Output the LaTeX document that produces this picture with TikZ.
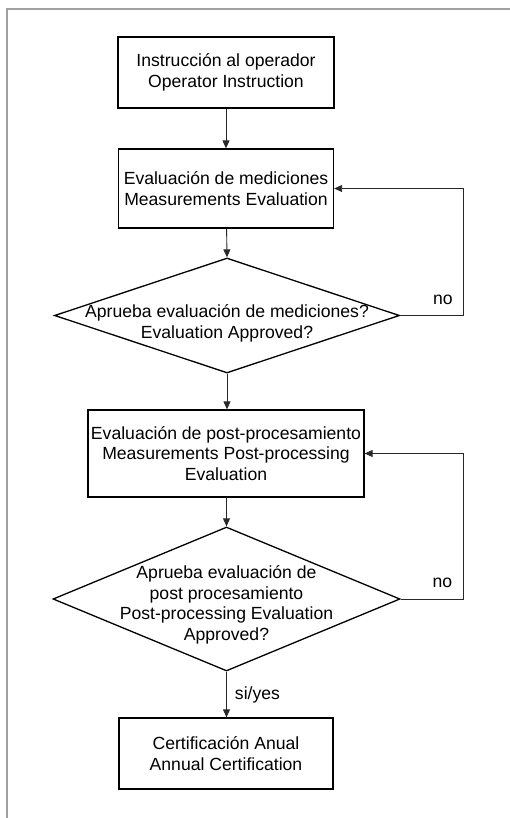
\documentclass[tikz,border=0pt]{standalone}
\usepackage{fontspec}
\setmainfont{Liberation Sans}
\usetikzlibrary{positioning}
\usetikzlibrary{arrows.meta}
\usetikzlibrary{shapes.geometric}
\definecolor{framegray}{RGB}{160,160,160}
\definecolor{linegray}{RGB}{40,40,40}

\begin{document}
\begin{tikzpicture}[x=1pt, y=-1pt,
    stepbox/.style={draw, line width=1.3pt, align=center, inner sep=0pt, font=\fontsize{17.6}{20.5}\selectfont},
    askbox/.style={draw, diamond, line width=1.3pt, inner sep=0pt},
    asktext/.style={align=center, inner sep=0pt, font=\fontsize{17.6}{20.5}\selectfont},
    flow/.style={-{Triangle[length=8pt, width=7pt]}, linegray, line width=0.9pt},
    lbl/.style={inner sep=0pt, text=black, font=\fontsize{17.6}{20.5}\selectfont}]
    \useasboundingbox (0,0) rectangle (510,818);
    \draw[framegray, line width=1.5pt] (7,818) -- (7,9) -- (510,9);

    % steps and questions
    \node[stepbox, minimum width=216pt, minimum height=71pt] (instr) at (226,72.5) {Instrucción al operador\\Operator Instruction};
    \node[stepbox, minimum width=215pt, minimum height=79pt] (meas) at (226,188.5) {Evaluación de mediciones\\Measurements Evaluation};
    \node[askbox, minimum width=345pt, minimum height=115pt] (ask1) at (227,315.5) {};
    \node[asktext] (ask1txt) at ([yshift=-8pt]ask1.center) {Aprueba evaluación de mediciones?\\Evaluation Approved?};
    \node[stepbox, minimum width=276pt, minimum height=87pt] (post) at (226,453.5) {Evaluación de post-procesamiento\\Measurements Post-processing\\Evaluation};
    \node[askbox, minimum width=347pt, minimum height=144pt] (ask2) at (226.5,599) {};
    \node[asktext] (ask2txt) at ([yshift=-6pt]ask2.center) {Aprueba evaluación de\\post procesamiento\\Post-processing Evaluation\\Approved?};
    \node[stepbox, minimum width=214pt, minimum height=71pt] (cert) at (226,753.5) {Certificación Anual\\Annual Certification};

    % connectors
    \draw[flow] (instr) -- (meas);
    \draw[flow] (meas) -- (ask1.north);
    \draw[flow] (ask1.south) -- (ask1.south |- post.north);
    \draw[flow] (post.south -| ask2.north) -- (ask2.north);
    \draw[flow] (ask2.south) -- (ask2.south |- cert.north) node[midway, right=8pt, lbl] (yes) {si/yes};
    \draw[flow] (ask1.east) -- ++(63,0) node[anchor=south east, xshift=-10pt, yshift=10pt, lbl] (no1) {no} |- (meas.east);
    \draw[flow] (ask2.east) -- ++(63,0) node[anchor=south east, xshift=-11pt, yshift=11pt, lbl] (no2) {no} |- (post.east);
\end{tikzpicture}
\end{document}
